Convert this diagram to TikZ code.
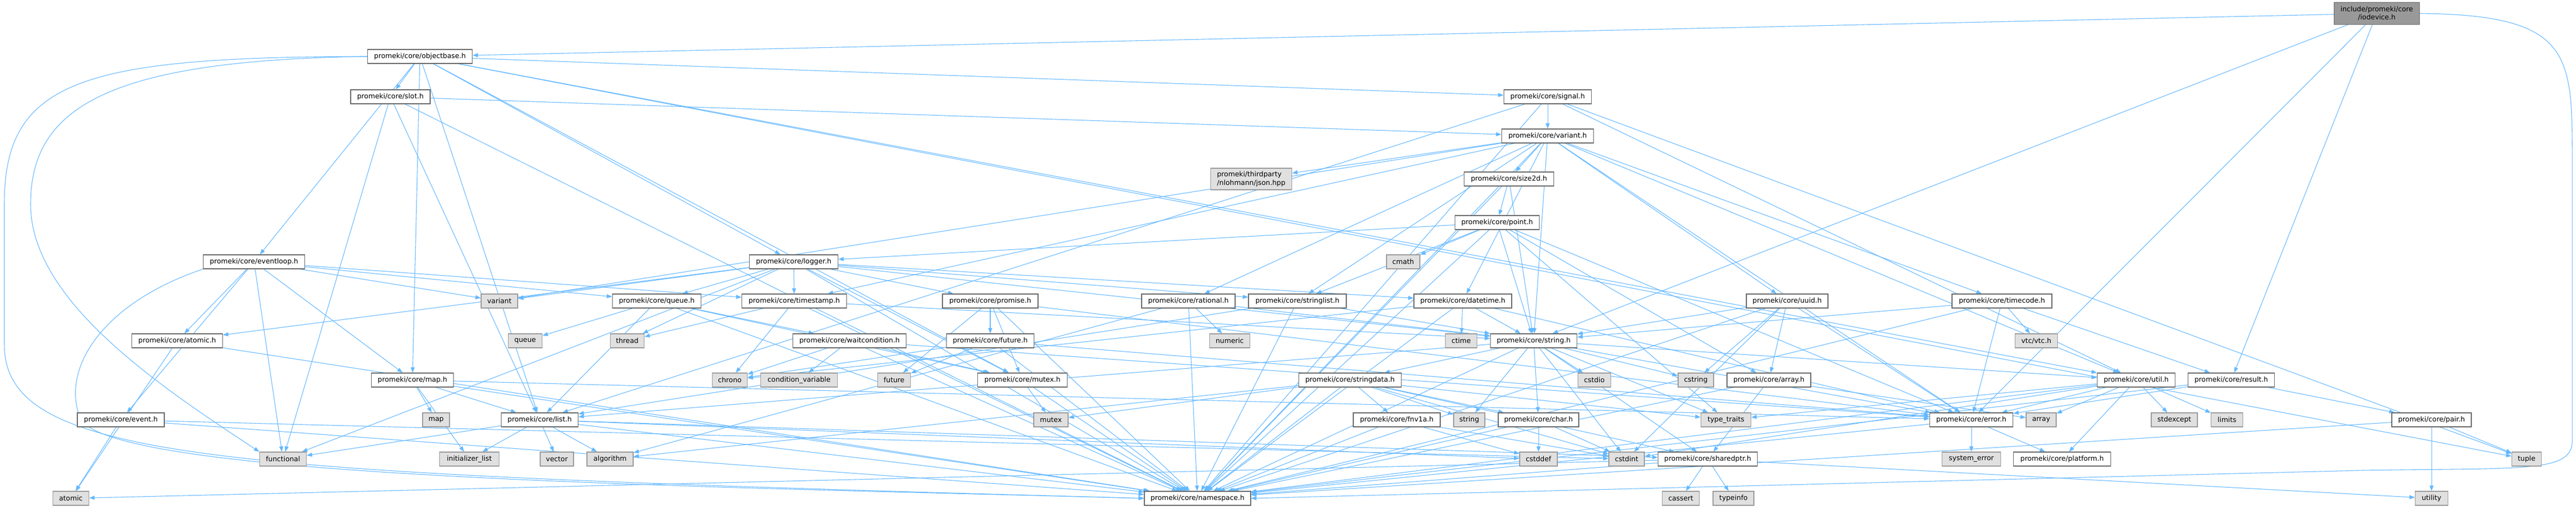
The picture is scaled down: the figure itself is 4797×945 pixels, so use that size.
\documentclass[tikz,border=0pt]{standalone}
\usepackage{fontspec}
\setmainfont{DejaVu Sans}
\usetikzlibrary{arrows.meta}
\definecolor{edgec}{HTML}{63B8FF}
\definecolor{bordc}{HTML}{666666}
\definecolor{sysb}{HTML}{999999}
\definecolor{sysf}{HTML}{E0E0E0}
\definecolor{rootf}{HTML}{999999}
\pgfdeclarelayer{paper}
\pgfdeclarelayer{background}
\pgfsetlayers{paper,background,main}
\newcommand\nd[5]{\node[#1, minimum width=#4pt] (#2) at (#3) {#5};}
\begin{document}
\begin{tikzpicture}[x=0.75pt, y=-0.75pt,
  font=\fontsize{9.6}{11.5}\selectfont,
  box/.style={rectangle, inner sep=0pt, minimum height=19.5pt, line width=1pt, text=black},
  hdr/.style={box, draw=bordc, fill=white},
  sys/.style={box, draw=sysb, fill=sysf},
  root/.style={box, draw=bordc, fill=rootf, align=center, minimum height=30.75pt},
  sys2/.style={box, draw=sysb, fill=sysf, align=left, minimum height=30pt},
  edge/.style={draw=edgec, line width=0.8pt, -{Triangle[length=7.5pt,width=5.5pt]}}]
\begin{pgfonlayer}{paper}
\fill[white] (0,0) rectangle (4797,945);
\end{pgfonlayer}
\useasboundingbox (0,0) rectangle (4797,945);
% nodes
\nd{root}{iodevice}{4426,25}{119.25}{include/promeki/core\\/iodevice.h}
\nd{hdr}{objectbase}{782,105}{146.25}{promeki/core/objectbase.h}
\nd{hdr}{slot}{727,180}{111}{promeki/core/slot.h}
\nd{hdr}{signal}{2882,180}{122.25}{promeki/core/signal.h}
\nd{hdr}{varianth}{2882,253}{128.25}{promeki/core/variant.h}
\nd{hdr}{size2d}{2810,333}{125.25}{promeki/core/size2d.h}
\nd{sys2}{json}{2330,333}{113.25}{promeki/thirdparty\\/nlohmann/json.hpp}
\nd{hdr}{point}{2788,414}{117.75}{promeki/core/point.h}
\nd{hdr}{eventloop}{473,487}{141.75}{promeki/core/eventloop.h}
\nd{hdr}{logger}{1478,487}{123.75}{promeki/core/logger.h}
\nd{sys}{cmath}{2613,487}{46.5}{cmath}
\nd{sys}{variant}{930,560}{51}{variant}
\nd{hdr}{queueh}{1223,560}{123.75}{promeki/core/queue.h}
\nd{hdr}{timestamp}{1479,560}{146.25}{promeki/core/timestamp.h}
\nd{hdr}{promise}{1844,560}{133.5}{promeki/core/promise.h}
\nd{hdr}{rational}{2213,560}{130.5}{promeki/core/rational.h}
\nd{hdr}{stringlist}{2416,560}{136.5}{promeki/core/stringlist.h}
\nd{hdr}{datetime}{2724,560}{136.5}{promeki/core/datetime.h}
\nd{hdr}{uuid}{3328,560}{114}{promeki/core/uuid.h}
\nd{hdr}{timecode}{3728,560}{139.5}{promeki/core/timecode.h}
\nd{hdr}{atomich}{330,634}{126.75}{promeki/core/atomic.h}
\nd{sys}{queue}{978,634}{47.25}{queue}
\nd{sys}{thread}{1168,634}{47.25}{thread}
\nd{hdr}{waitcond}{1582,634}{158.25}{promeki/core/waitcondition.h}
\nd{hdr}{futureh}{1844,634}{122.25}{promeki/core/future.h}
\nd{sys}{numeric}{2290,634}{56.25}{numeric}
\nd{sys}{ctime}{2721,634}{44.25}{ctime}
\nd{hdr}{stringh}{2856,634}{120.75}{promeki/core/string.h}
\nd{sys}{vtc}{3792,634}{59.25}{vtc/vtc.h}
\nd{hdr}{maph}{768,707}{114.75}{promeki/core/map.h}
\nd{sys}{chrono}{1359,707}{48.75}{chrono}
\nd{sys}{condvar}{1488,707}{107.25}{condition\_variable}
\nd{sys}{future}{1665,707}{45.75}{future}
\nd{hdr}{mutexh}{1904,707}{125.25}{promeki/core/mutex.h}
\nd{hdr}{stringdata}{2514,707}{143.25}{promeki/core/stringdata.h}
\nd{sys}{cstdio}{2969,707}{45.75}{cstdio}
\nd{sys}{cstring}{3158,707}{49.5}{cstring}
\nd{hdr}{arrayh}{3294,707}{117}{promeki/core/array.h}
\nd{hdr}{util}{3978,707}{108.75}{promeki/core/util.h}
\nd{hdr}{result}{4155,707}{120.75}{promeki/core/result.h}
\nd{hdr}{event}{225,781}{121.5}{promeki/core/event.h}
\nd{sys}{map}{812,781}{37.5}{map}
\nd{hdr}{list}{1005,781}{107.25}{promeki/core/list.h}
\nd{sys}{mutex}{1957,781}{48}{mutex}
\nd{hdr}{fnv}{2601,781}{121.5}{promeki/core/fnv1a.h}
\nd{sys}{string}{2736,781}{43.5}{string}
\nd{hdr}{char}{2865,781}{112.5}{promeki/core/char.h}
\nd{sys}{typetraits}{3214,781}{69.75}{type\_traits}
\nd{hdr}{error}{3671,781}{116.25}{promeki/core/error.h}
\nd{sys}{array}{3801,781}{42}{array}
\nd{sys}{stdexcept}{4049,781}{64.5}{stdexcept}
\nd{sys}{limits}{4147,781}{44.25}{limits}
\nd{hdr}{pair}{4528,781}{111}{promeki/core/pair.h}
\nd{sys}{functional}{527,854}{65.25}{functional}
\nd{sys}{initlist}{874,854}{83.25}{initializer\_list}
\nd{sys}{vector}{1037,854}{46.5}{vector}
\nd{sys}{algorithm}{1136,854}{64.5}{algorithm}
\nd{sys}{cstddef}{2865,854}{52.5}{cstddef}
\nd{sys}{cstdint}{3029,854}{49.5}{cstdint}
\nd{hdr}{sharedptr}{3180,854}{138.75}{promeki/core/sharedptr.h}
\nd{sys}{syserr}{3671,854}{81.75}{system\_error}
\nd{hdr}{platform}{3840,854}{135.75}{promeki/core/platform.h}
\nd{sys}{tuple}{4705,854}{41.25}{tuple}
\nd{sys}{atomic}{132,927}{50.25}{atomic}
\nd{hdr}{namespace}{2230,927}{148.5}{promeki/core/namespace.h}
\nd{sys}{cassert}{3130,927}{51.75}{cassert}
\nd{sys}{typeinfo}{3228,927}{57}{typeinfo}
\nd{sys}{utility}{4528,927}{45.75}{utility}
% edges
\begin{pgfonlayer}{background}
\foreach \s/\t in {
iodevice/objectbase, iodevice/stringh, iodevice/error, iodevice/result,
objectbase/slot, objectbase/signal, objectbase/eventloop, objectbase/logger, objectbase/maph, objectbase/list, objectbase/mutexh, objectbase/tuple, objectbase/util,
slot/varianth, slot/functional, slot/list,
signal/varianth, signal/list, signal/tuple, signal/util,
varianth/variant, varianth/timestamp, varianth/rational, varianth/stringlist, varianth/json, varianth/size2d, varianth/datetime, varianth/stringh, varianth/uuid, varianth/timecode, varianth/util, varianth/error,
size2d/point, size2d/stringh,
point/logger, point/stringlist, point/cmath, point/stringh, point/arrayh, point/error, point/typetraits,
eventloop/event, eventloop/atomich, eventloop/functional, eventloop/maph, eventloop/queueh, eventloop/timestamp, eventloop/variant,
logger/variant, logger/atomich, logger/functional, logger/queueh, logger/thread, logger/timestamp, logger/promise, logger/stringlist, logger/datetime, logger/stringh, logger/mutexh,
timestamp/thread, timestamp/chrono, timestamp/stringh,
queueh/queue, queueh/list, queueh/waitcond, queueh/mutexh,
promise/futureh, promise/future, promise/mutexh, promise/error,
futureh/future, futureh/error, futureh/chrono,
waitcond/chrono, waitcond/condvar, waitcond/mutexh, waitcond/error,
mutexh/mutex,
rational/numeric, rational/stringh, rational/algorithm,
stringlist/list, stringlist/stringh,
datetime/ctime, datetime/chrono, datetime/stringh, datetime/error,
uuid/arrayh, uuid/stringh, uuid/error, uuid/cstring, uuid/cstdint,
timecode/vtc, timecode/stringh, timecode/error, timecode/result,
atomich/atomic,
event/atomic, event/cstdint,
maph/map, maph/list, maph/initlist, maph/error,
list/initlist, list/vector, list/algorithm, list/functional, list/sharedptr, list/cstddef,
stringh/list, stringh/stringdata, stringh/string, stringh/char, stringh/cstdint, stringh/cstdio, stringh/cstring, stringh/sharedptr, stringh/typetraits, stringh/util, stringh/error,
stringdata/fnv, stringdata/string, stringdata/char, stringdata/sharedptr, stringdata/typetraits, stringdata/mutex, stringdata/algorithm, stringdata/cstdint,
fnv/cstddef, fnv/cstdint,
char/cstddef, char/cstdint,
arrayh/array, arrayh/sharedptr,
util/stdexcept, util/limits, util/typetraits, util/array, util/error, util/platform, util/cstdint,
result/pair, result/error,
pair/tuple, pair/utility,
error/syserr, error/platform,
sharedptr/atomic, sharedptr/cassert, sharedptr/typeinfo, sharedptr/utility}
  \draw[edge] (\s) -- (\t);
\foreach \s in {slot, signal, varianth, size2d, point, logger, timestamp, queueh, promise, futureh, waitcond, mutexh, rational, stringlist, datetime, uuid, timecode, atomich, event, maph, list, stringh, stringdata, fnv, char, arrayh, util, result, pair, error, sharedptr}
  \draw[edge] (\s) -- (namespace);
% routed edges
\draw[edge] (objectbase.west) .. controls (150,106) and (8,150) .. (8,380) -- (8,640) .. controls (8,860) and (400,880) .. (namespace.west);
\draw[edge] (objectbase.west) .. controls (200,112) and (57,200) .. (57,380) .. controls (57,560) and (300,720) .. (functional.north west);
\draw[edge] (eventloop.south west) .. controls (200,560) and (110,680) .. (150,780) .. controls (220,890) and (1300,905) .. (namespace.west);
\draw[edge] (iodevice.east) .. controls (4790,28) and (4790,100) .. (4790,300) -- (4790,820) .. controls (4790,880) and (4700,870) .. (4400,875) -- (namespace.east);
\end{pgfonlayer}
\end{tikzpicture}
\end{document}
